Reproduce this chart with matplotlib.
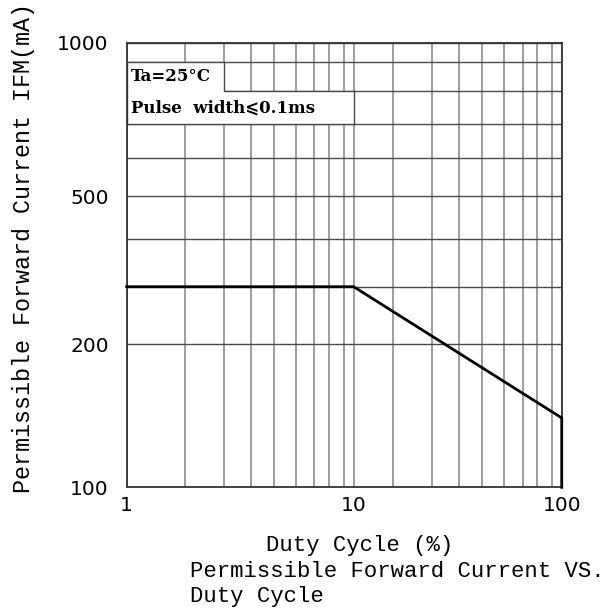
import numpy as np
import matplotlib
matplotlib.use("Agg")
import matplotlib.pyplot as plt
from matplotlib.patches import Polygon
from matplotlib.ticker import FixedLocator, NullFormatter

# ---- data ----
duty_cycle = [1, 10, 100, 100]          # %
ifm_ma = [300, 300, 140, 100]           # mA

x_major = [1, 10, 100]
x_labels = ["1", "10", "100"]
x_minor = [2, 3, 4, 5, 6, 7, 8, 9, 20, 30, 40, 50, 60, 70, 80, 90]
y_major = [100, 200, 500, 1000]
y_labels = ["100", "200", "500", "1000"]
y_minor = [300, 400, 600, 700, 800, 900]

# ---- axis calibration of the printed (hand-ruled) log paper ----
x_cal_vals = [1, 2, 3, 4, 5, 6, 7, 8, 9, 10, 20, 30, 40, 50, 60, 70, 80, 90, 100]
x_cal_frac = [0, 0.1340, 0.2244, 0.2851, 0.3393, 0.3885, 0.4313, 0.4651, 0.4989,
              0.5218, 0.6115, 0.7018, 0.7628, 0.8161, 0.8667, 0.9110, 0.9432,
              0.9770, 1.0]
y_cal_vals = [100, 200, 300, 400, 500, 600, 700, 800, 900, 1000]
y_cal_frac = [0, 0.3216, 0.4512, 0.5578, 0.6552, 0.7413, 0.8165, 0.8914,
              0.9559, 1.0]


def _pw(x, xp, fp):
    x = np.asarray(x, float)
    xp = np.asarray(xp, float)
    fp = np.asarray(fp, float)
    y = np.interp(x, xp, fp)
    s0 = (fp[1] - fp[0]) / (xp[1] - xp[0])
    s1 = (fp[-1] - fp[-2]) / (xp[-1] - xp[-2])
    y = np.where(x < xp[0], fp[0] + (x - xp[0]) * s0, y)
    y = np.where(x > xp[-1], fp[-1] + (x - xp[-1]) * s1, y)
    return y


def make_scale(vals, frac):
    lv = np.log10(vals)

    def fwd(v):
        v = np.asarray(v, float)
        return _pw(np.log10(np.clip(v, 1e-12, None)), lv, frac)

    def inv(u):
        return 10 ** _pw(u, frac, lv)
    return fwd, inv


fig = plt.figure(figsize=(6.08, 6.13), dpi=100)
ax = fig.add_axes([0.2084, 0.2050, 0.7155, 0.7253])
ax.set_xscale("function", functions=make_scale(x_cal_vals, x_cal_frac))
ax.set_yscale("function", functions=make_scale(y_cal_vals, y_cal_frac))
ax.set_xlim(1, 100)
ax.set_ylim(100, 1000)
ax.set_axisbelow(True)

ax.xaxis.set_major_locator(FixedLocator(x_major))
ax.xaxis.set_minor_locator(FixedLocator(x_minor))
ax.yaxis.set_major_locator(FixedLocator(y_major))
ax.yaxis.set_minor_locator(FixedLocator(y_minor))
ax.set_xticklabels(x_labels)
ax.set_yticklabels(y_labels)
ax.xaxis.set_minor_formatter(NullFormatter())
ax.yaxis.set_minor_formatter(NullFormatter())

for lab in ax.get_xticklabels() + ax.get_yticklabels():
    lab.set_fontfamily("DejaVu Sans")
    lab.set_fontsize(14.5)
ax.tick_params(axis="both", which="both", length=0)
ax.tick_params(axis="x", pad=6)
ax.tick_params(axis="y", pad=13)

ax.grid(True, axis="x", which="both", color="#8c8c8c", linewidth=1.2)
ax.grid(True, axis="y", which="both", color="#4a4a4a", linewidth=1.0)

for s in ax.spines.values():
    s.set_color("#333333")
    s.set_linewidth(1.3)

# white legend panel (stepped) covering the grid
panel = Polygon([(1, 900), (3, 900), (3, 800), (10, 800), (10, 700), (1, 700)],
                closed=True, facecolor="white", edgecolor="#4a4a4a",
                linewidth=1.0, zorder=1)
ax.add_patch(panel)

box_font = ["DejaVu Serif", "DejaVu Sans"]
ax.text(0.010, 0.923, "Ta=25°C", transform=ax.transAxes, ha="left",
        va="center", fontsize=12, fontweight="bold", family=box_font,
        zorder=4)
ax.text(0.010, 0.853, "Pulse  width⩽0.1ms", transform=ax.transAxes,
        ha="left", va="center", fontsize=12, fontweight="bold",
        family=box_font, zorder=4)

ax.plot(duty_cycle, ifm_ma, color="black", linewidth=2.0, zorder=3,
        clip_on=False)

fig.text(24 / 608, 1 - 248 / 613, "Permissible Forward Current IFM(mA)",
         rotation=90, ha="center", va="center", fontsize=16.8,
         family="Liberation Mono")
fig.text(360 / 608, 1 - 546 / 613, "Duty Cycle (%)", ha="center",
         va="center", fontsize=16, family="Liberation Mono")
fig.text(190 / 608, 1 - 561 / 613,
         "Permissible Forward Current VS.\nDuty Cycle", ha="left", va="top",
         fontsize=16, family="Liberation Mono", linespacing=1.28)

fig.savefig("out.png", dpi=100)
